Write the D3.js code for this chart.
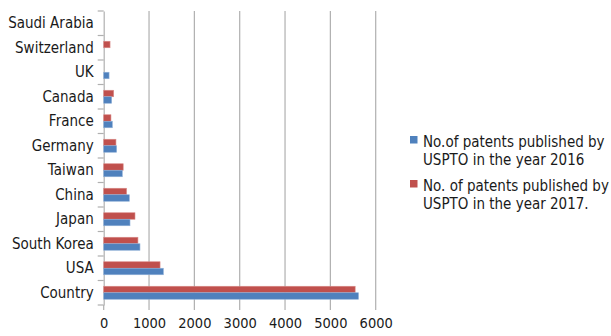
<!DOCTYPE html>
<html><head><meta charset="utf-8">
<script src="https://cdn.jsdelivr.net/npm/d3@7"></script>
<style>
body{margin:0;background:#fff;}
text{font-family:"DejaVu Sans",sans-serif;fill:#1a1a1a;}
</style></head>
<body>
<svg id="chart" width="611" height="336"></svg>
<script>
const categories = ["Country","USA","South Korea","Japan","China","Taiwan","Germany","France","Canada","UK","Switzerland","Saudi Arabia"];
const values2016 = [5620,1316,800,580,565,410,285,190,175,118,0,0];
const values2017 = [5547,1243,755,690,505,430,270,160,220,0,140,0];
const xTicks = [0,1000,2000,3000,4000,5000,6000];
const seriesNames = ["No.of patents published by|USPTO in the year 2016","No. of patents published by|USPTO in the year 2017."];
const colors = ["#4F81BD","#C0504D"];

const SX = 0.9; // horizontal condensing of glyphs
const svg = d3.select("#chart");
const x = d3.scaleLinear().domain([0,6000]).range([103.7,375.7]);
const y = d3.scaleBand().domain(categories.slice().reverse()).range([11,305]);
const grid = "#b0b0b0";

// gridlines (extending as ticks below plot)
svg.append("g").selectAll("line").data(xTicks.slice(1)).join("line")
  .attr("x1",d=>x(d)).attr("x2",d=>x(d)).attr("y1",11).attr("y2",310)
  .attr("stroke",grid).attr("stroke-width",1.2);
svg.append("line").attr("x1",x(0)).attr("x2",x(0)).attr("y1",305).attr("y2",310).attr("stroke",grid).attr("stroke-width",1.2);

// y axis
const yAxis = d3.axisLeft(y).tickSize(0).tickPadding(10);
const ga = svg.append("g").attr("transform",`translate(${x(0)},0)`).call(yAxis);
ga.select(".domain").attr("stroke",grid).attr("stroke-width",1.2);
ga.selectAll("text").attr("font-size","15px").attr("dy","0.32em")
  .attr("x",-10/SX).attr("transform",`scale(${SX},1)`).style("font-family",null);
const bounds = categories.map(c=>y(c)).concat([305]);
svg.append("g").selectAll("line").data(bounds).join("line")
  .attr("x1",x(0)-6).attr("x2",x(0)).attr("y1",d=>d).attr("y2",d=>d)
  .attr("stroke",grid).attr("stroke-width",1.2);

// x axis labels
const xAxis = d3.axisBottom(x).tickValues(xTicks).tickSize(0).tickPadding(0).tickFormat(d3.format("d"));
const gx = svg.append("g").attr("transform","translate(0,318)").call(xAxis);
gx.select(".domain").remove();
gx.selectAll("text").attr("font-size","14.5px").attr("dy","0.71em")
  .attr("transform",`scale(${SX},1)`).style("font-family",null);

// bars
const bh = 6.5;
const rows = categories.map((c,i)=>({c, v16:values2016[i], v17:values2017[i]}));
const g = svg.append("g");
g.selectAll("rect.r17").data(rows).join("rect").attr("class","r17")
  .attr("x",x(0)).attr("y",d=>y(d.c)+y.bandwidth()/2-bh)
  .attr("width",d=>x(d.v17)-x(0)).attr("height",bh)
  .attr("fill",colors[1]).attr("stroke","#d98a88").attr("stroke-width",d=>d.v17>0?0.6:0);
g.selectAll("rect.r16").data(rows).join("rect").attr("class","r16")
  .attr("x",x(0)).attr("y",d=>y(d.c)+y.bandwidth()/2)
  .attr("width",d=>x(d.v16)-x(0)).attr("height",bh)
  .attr("fill",colors[0]).attr("stroke","#8fb0d8").attr("stroke-width",d=>d.v16>0?0.6:0);

// legend
const lg = svg.append("g");
const lgY = [147,191];
seriesNames.forEach((s,i)=>{
  lg.append("rect").attr("x",410).attr("y",lgY[i]-11).attr("width",7.5).attr("height",7.5).attr("fill",colors[i]);
  s.split("|").forEach((t,j)=>{
    lg.append("g").attr("transform",`translate(423,${lgY[i]+j*18}) scale(${SX},1)`)
      .append("text").attr("font-size","15px").text(t);
  });
});
</script>
</body></html>
